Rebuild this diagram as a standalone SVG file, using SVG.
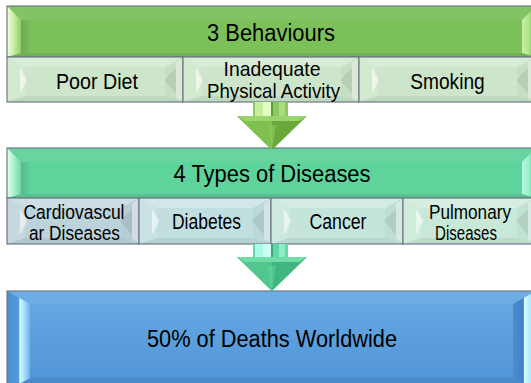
<svg xmlns="http://www.w3.org/2000/svg" xmlns:xlink="http://www.w3.org/1999/xlink" width="531" height="383" viewBox="0 0 531 383">
<style>
  text { font-family: "Liberation Sans", Arial, sans-serif; fill: #000; text-anchor: middle; }
  .hdr { font-size: 23px; }
  .sub { font-size: 22.5px; }
  .sub2 { font-size: 21px; }
  .sub3 { font-size: 20.5px; }
  .edge { fill: none; stroke: #6c7a84; stroke-width: 1.2; }
</style>
<defs>
  <linearGradient id="gL1" x1="0" y1="0" x2="1" y2="0">
    <stop offset="0" stop-color="#f2ffdc"/><stop offset="0.5" stop-color="#c6eca2"/><stop offset="1" stop-color="#8fcd69"/>
  </linearGradient>
  <linearGradient id="gR1" x1="0" y1="0" x2="1" y2="0">
    <stop offset="0" stop-color="#c8f0a2"/><stop offset="0.55" stop-color="#aee28a"/><stop offset="0.7" stop-color="#80c35d"/><stop offset="1" stop-color="#7cc05a"/>
  </linearGradient>
  <linearGradient id="gL2" x1="0" y1="0" x2="1" y2="0">
    <stop offset="0" stop-color="#e4fff2"/><stop offset="0.5" stop-color="#aaf0d0"/><stop offset="1" stop-color="#6ad7a4"/>
  </linearGradient>
  <linearGradient id="gR2" x1="0" y1="0" x2="1" y2="0">
    <stop offset="0" stop-color="#b8f8e2"/><stop offset="0.55" stop-color="#98eccc"/><stop offset="0.7" stop-color="#64d49f"/><stop offset="1" stop-color="#5fd39c"/>
  </linearGradient>
  <linearGradient id="gBlue" x1="0" y1="0" x2="0" y2="1">
    <stop offset="0" stop-color="#68aae4"/><stop offset="1" stop-color="#4e93d5"/>
  </linearGradient>
  <linearGradient id="gL3" x1="0" y1="0" x2="1" y2="0">
    <stop offset="0" stop-color="#4b8fd2"/><stop offset="0.5" stop-color="#5399d8"/><stop offset="0.56" stop-color="#d2fbff"/><stop offset="0.8" stop-color="#9ad8f8"/><stop offset="1" stop-color="#6cb2ea"/>
  </linearGradient>
  <linearGradient id="gR3" x1="0" y1="0" x2="1" y2="0">
    <stop offset="0" stop-color="#4a8ed0"/><stop offset="0.45" stop-color="#3f83c6"/><stop offset="0.5" stop-color="#d4fcff"/><stop offset="1" stop-color="#90d4f8"/>
  </linearGradient>
  <linearGradient id="gShade" x1="0" y1="0" x2="1" y2="0">
    <stop offset="0" stop-color="#000" stop-opacity="0.12"/><stop offset="1" stop-color="#000" stop-opacity="0"/>
  </linearGradient>

  <g id="facT">
    <polygon points="0,0 176,0 158,10 18,10" fill="#fff" fill-opacity="0.25"/>
    <polygon points="0,45 176,45 158,39 18,39" fill="#000" fill-opacity="0.06"/>
    <polygon points="0,0 18,10 18,39 0,45" fill="#fff" fill-opacity="0.12"/>
    <polygon points="176,0 158,10 158,39 176,45" fill="#000" fill-opacity="0.03"/>
    <polygon points="13,11 20,23 13,36" fill="#fff" fill-opacity="0.55"/>
    <polygon points="169,11 157,23 169,36" fill="#000" fill-opacity="0.07"/>
    <polygon points="169,5 176,1 176,44 169,40" fill="#fff" fill-opacity="0.35"/>
  </g>
  <g id="facS">
    <polygon points="0,0 132,0 114,10 18,10" fill="#fff" fill-opacity="0.25"/>
    <polygon points="0,46 132,46 114,40 18,40" fill="#000" fill-opacity="0.06"/>
    <polygon points="0,0 18,10 18,40 0,46" fill="#fff" fill-opacity="0.12"/>
    <polygon points="132,0 114,10 114,40 132,46" fill="#000" fill-opacity="0.03"/>
    <polygon points="13,11 20,23 13,37" fill="#fff" fill-opacity="0.55"/>
    <polygon points="125,11 113,23 125,37" fill="#000" fill-opacity="0.07"/>
    <polygon points="125,5 132,1 132,45 125,41" fill="#fff" fill-opacity="0.35"/>
  </g>
</defs>

<rect width="531" height="383" fill="#fff"/>

<!-- Header 1 -->
<g id="behaviours">
  <rect x="7" y="6" width="529" height="51" fill="#7cc05a"/>
  <polygon points="7,6 536,6 522,20 21,20" fill="#fff" fill-opacity="0.06"/>
  <polygon points="7,57 536,57 522,53 21,53" fill="#000" fill-opacity="0.08"/>
  <rect x="21" y="20" width="10" height="33" fill="url(#gShade)"/>
  <polygon points="7,6 21,20 21,53 7,57" fill="url(#gL1)"/>
  <polygon points="536,6 522,20 522,53 536,57" fill="url(#gR1)"/>
  <rect class="edge" x="7" y="6" width="529" height="51"/>
  <text class="hdr" x="271" y="41" textLength="128" lengthAdjust="spacingAndGlyphs">3 Behaviours</text>
</g>

<g id="poor-diet">
  <rect x="7" y="57" width="176" height="45" fill="#cde6cb"/>
  <use xlink:href="#facT" x="7" y="57"/>
  <rect class="edge" x="7" y="57" width="176" height="45"/>
  <text class="sub" x="97" y="88.5" textLength="82" lengthAdjust="spacingAndGlyphs">Poor Diet</text>
</g>
<g id="inadequate-activity">
  <rect x="183" y="57" width="176" height="45" fill="#cde6cb"/>
  <use xlink:href="#facT" x="183" y="57"/>
  <rect class="edge" x="183" y="57" width="176" height="45"/>
  <text class="sub2" x="272" y="76" textLength="97" lengthAdjust="spacingAndGlyphs">Inadequate</text>
  <text class="sub2" x="273.5" y="97.5" textLength="133" lengthAdjust="spacingAndGlyphs">Physical Activity</text>
</g>
<g id="smoking">
  <rect x="359" y="57" width="176" height="45" fill="#cde6cb"/>
  <use xlink:href="#facT" x="359" y="57"/>
  <rect class="edge" x="359" y="57" width="176" height="45"/>
  <text class="sub" x="447.5" y="88.5" textLength="74.5" lengthAdjust="spacingAndGlyphs">Smoking</text>
</g>

<!-- Header 2 -->
<g id="disease-types">
  <rect x="7" y="148" width="529" height="50" fill="#5fd39c"/>
  <polygon points="7,148 536,148 522,162 21,162" fill="#fff" fill-opacity="0.06"/>
  <polygon points="7,198 536,198 522,194 21,194" fill="#000" fill-opacity="0.08"/>
  <rect x="21" y="162" width="10" height="32" fill="url(#gShade)"/>
  <polygon points="7,148 21,162 21,194 7,198" fill="url(#gL2)"/>
  <polygon points="536,148 522,162 522,194 536,198" fill="url(#gR2)"/>
  <rect class="edge" x="7" y="148" width="529" height="50"/>
  <text class="hdr" x="272" y="182" textLength="197" lengthAdjust="spacingAndGlyphs">4 Types of Diseases</text>
</g>

<g id="cardiovascular">
  <rect x="7" y="198" width="132" height="46" fill="#bdd3dc"/>
  <use xlink:href="#facS" x="7" y="198"/>
  <rect class="edge" x="7" y="198" width="132" height="46"/>
  <text class="sub3" x="74" y="218.5" textLength="101" lengthAdjust="spacingAndGlyphs">Cardiovascul</text>
  <text class="sub3" x="74.5" y="239.5" textLength="91" lengthAdjust="spacingAndGlyphs">ar Diseases</text>
</g>
<g id="diabetes">
  <rect x="139" y="198" width="132" height="46" fill="#c2dfe0"/>
  <use xlink:href="#facS" x="139" y="198"/>
  <rect class="edge" x="139" y="198" width="132" height="46"/>
  <text class="sub" x="206.5" y="228.5" textLength="69" lengthAdjust="spacingAndGlyphs">Diabetes</text>
</g>
<g id="cancer">
  <rect x="271" y="198" width="132" height="46" fill="#c5e5dc"/>
  <use xlink:href="#facS" x="271" y="198"/>
  <rect class="edge" x="271" y="198" width="132" height="46"/>
  <text class="sub" x="338" y="228.5" textLength="57" lengthAdjust="spacingAndGlyphs">Cancer</text>
</g>
<g id="pulmonary">
  <rect x="403" y="198" width="132" height="46" fill="#c8e9d8"/>
  <use xlink:href="#facS" x="403" y="198"/>
  <rect class="edge" x="403" y="198" width="132" height="46"/>
  <text class="sub3" x="470" y="218.5" textLength="82" lengthAdjust="spacingAndGlyphs">Pulmonary</text>
  <text class="sub3" x="466" y="239.5" textLength="62" lengthAdjust="spacingAndGlyphs">Diseases</text>
</g>

<!-- Result -->
<g id="deaths">
  <rect x="7" y="291" width="529" height="100" fill="url(#gBlue)"/>
  <polygon points="7,291 536,291 513,304 30,304" fill="#fff" fill-opacity="0.05"/>
  <polygon points="7,391 536,391 513,378 30,378" fill="#000" fill-opacity="0.08"/>
  <polygon points="7,291 30,304 30,378 7,391" fill="url(#gL3)"/>
  <polygon points="536,291 513,304 513,378 536,391" fill="url(#gR3)"/>
  <rect class="edge" x="7" y="291" width="529" height="100"/>
  <text class="hdr" x="272" y="346.5" textLength="250" lengthAdjust="spacingAndGlyphs">50% of Deaths Worldwide</text>
</g>

<!-- Connectors -->
<g id="connectors">
  <g id="arrow-behaviours-diseases">
    <rect x="253" y="102" width="35" height="14" fill="#8cc860"/>
    <rect x="255" y="102" width="8" height="14" fill="#c6ee9e"/>
    <rect x="263" y="102" width="8" height="14" fill="#e2ffc4"/>
    <rect x="271" y="102" width="2" height="14" fill="#5e9e3a"/>
    <rect x="279" y="102" width="6" height="14" fill="#a8dc80"/>
    <polygon points="237,116 307,116 272,150" fill="#69a93b"/>
    <polygon points="237,116 272,116 272,150" fill="#7fc150"/>
    <polygon points="237,116 307,116 299,121 245,121" fill="#9ad46c"/>
    <polygon points="268,125 276,125 272,150" fill="#8ccc5e" fill-opacity="0.6"/>
  </g>
  <g id="arrow-diseases-deaths">
    <rect x="253" y="244" width="35" height="13" fill="#62d8a6"/>
    <rect x="255" y="244" width="8" height="13" fill="#a8fbe6"/>
    <rect x="263" y="244" width="8" height="13" fill="#d0fff4"/>
    <rect x="271" y="244" width="2" height="13" fill="#3ba879"/>
    <rect x="279" y="244" width="6" height="13" fill="#8eecca"/>
    <polygon points="237,257 307,257 272,291" fill="#3fb57f"/>
    <polygon points="237,257 272,257 272,291" fill="#50c78e"/>
    <polygon points="237,257 307,257 299,262 245,262" fill="#72dca8"/>
    <polygon points="268,266 276,266 272,291" fill="#62d49c" fill-opacity="0.6"/>
  </g>
</g>
</svg>
